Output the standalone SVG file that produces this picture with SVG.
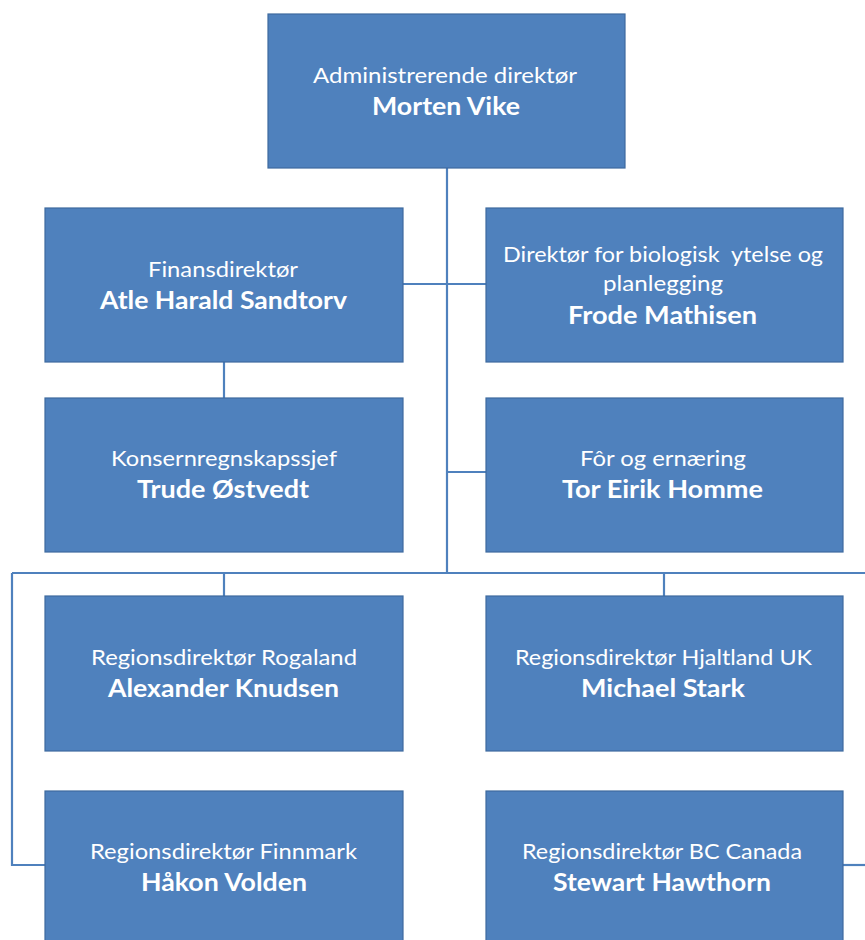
<svg xmlns="http://www.w3.org/2000/svg" width="865" height="940" viewBox="0 0 865 940">
<style>
.box{fill:#4F81BD;stroke:#3E6A9E;stroke-width:1.2}
.t{font-family:Lato,"Open Sans","Liberation Sans",sans-serif;font-size:22px;fill:#FFFFFF;text-anchor:middle}
.n{font-family:Lato,"Open Sans","Liberation Sans",sans-serif;font-size:25.5px;font-weight:bold;fill:#FFFFFF;text-anchor:middle}
.c{fill:none;stroke:#4F81BD;stroke-width:2.2}
</style>
<rect width="865" height="940" fill="#FFFFFF"/>
<g id="connectors">
<path class="c" d="M447 168 V573"/>
<path class="c" d="M403 284 H486"/>
<path class="c" d="M447 472 H486"/>
<path class="c" d="M224 362 V398"/>
<path class="c" d="M12 573 H865"/>
<path class="c" d="M224 573 V596"/>
<path class="c" d="M664 573 V596"/>
<path class="c" d="M12 573 V865 H45"/>
<path class="c" d="M843 865 H865"/>
</g>
<g id="ceo">
<rect class="box" x="268" y="14" width="357" height="154"/>
<text class="t" x="445" y="83" textLength="264" lengthAdjust="spacingAndGlyphs">Administrerende direktør</text>
<text class="n" x="446" y="115" textLength="148" lengthAdjust="spacingAndGlyphs">Morten Vike</text>
</g>
<g id="cfo">
<rect class="box" x="45" y="208" width="358" height="154"/>
<text class="t" x="223" y="277" textLength="150" lengthAdjust="spacingAndGlyphs">Finansdirektør</text>
<text class="n" x="223.5" y="309" textLength="247" lengthAdjust="spacingAndGlyphs">Atle Harald Sandtorv</text>
</g>
<g id="bio">
<rect class="box" x="486" y="208" width="357" height="154"/>
<text class="t" x="663" y="262" textLength="320" lengthAdjust="spacingAndGlyphs" xml:space="preserve">Direktør for biologisk  ytelse og</text>
<text class="t" x="663" y="291" textLength="120" lengthAdjust="spacingAndGlyphs">planlegging</text>
<text class="n" x="662.5" y="324" textLength="189" lengthAdjust="spacingAndGlyphs">Frode Mathisen</text>
</g>
<g id="konsern">
<rect class="box" x="45" y="398" width="358" height="154"/>
<text class="t" x="224" y="466" textLength="226" lengthAdjust="spacingAndGlyphs">Konsernregnskapssjef</text>
<text class="n" x="223" y="498" textLength="172" lengthAdjust="spacingAndGlyphs">Trude Østvedt</text>
</g>
<g id="for">
<rect class="box" x="486" y="398" width="357" height="154"/>
<text class="t" x="663" y="466" textLength="166" lengthAdjust="spacingAndGlyphs">Fôr og ernæring</text>
<text class="n" x="662.5" y="498" textLength="201" lengthAdjust="spacingAndGlyphs">Tor Eirik Homme</text>
</g>
<g id="rogaland">
<rect class="box" x="45" y="596" width="358" height="155"/>
<text class="t" x="224" y="665" textLength="266" lengthAdjust="spacingAndGlyphs">Regionsdirektør Rogaland</text>
<text class="n" x="223.5" y="697" textLength="231" lengthAdjust="spacingAndGlyphs">Alexander Knudsen</text>
</g>
<g id="hjaltland">
<rect class="box" x="486" y="596" width="357" height="155"/>
<text class="t" x="663.5" y="665" textLength="297" lengthAdjust="spacingAndGlyphs">Regionsdirektør Hjaltland UK</text>
<text class="n" x="663" y="697" textLength="164" lengthAdjust="spacingAndGlyphs">Michael Stark</text>
</g>
<g id="finnmark">
<rect class="box" x="45" y="791" width="358" height="155"/>
<text class="t" x="223.5" y="859" textLength="267" lengthAdjust="spacingAndGlyphs">Regionsdirektør Finnmark</text>
<text class="n" x="224" y="891" textLength="166" lengthAdjust="spacingAndGlyphs">Håkon Volden</text>
</g>
<g id="canada">
<rect class="box" x="486" y="791" width="357" height="155"/>
<text class="t" x="662" y="859" textLength="280" lengthAdjust="spacingAndGlyphs">Regionsdirektør BC Canada</text>
<text class="n" x="662" y="891" textLength="218" lengthAdjust="spacingAndGlyphs">Stewart Hawthorn</text>
</g>
</svg>
